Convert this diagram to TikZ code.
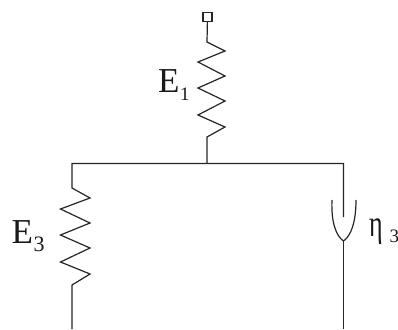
\documentclass[tikz,border=0pt]{standalone}
\usepackage{fontspec}
\setmainfont{Liberation Serif}
\tikzset{
  wire/.style={draw=black!85,line width=1.2pt,line join=miter},
  lab/.style={inner sep=0pt,text=black!90,font=\fontsize{35}{35}\selectfont,anchor=base west},
  sub/.style={inner sep=0pt,text=black!90,font=\fontsize{19}{19}\selectfont,anchor=base west},
  bigsub/.style={sub,font=\fontsize{22}{22}\selectfont},
  terminal/.style={draw=black!85,line width=1.1pt,minimum size=9pt,inner sep=0pt,rectangle}
}
\begin{document}
\begin{tikzpicture}[x=1pt,y=-1pt]
\useasboundingbox[fill=white] (0,0) rectangle (398,329);
\node[terminal] (term) at (207.5,17) {};
\coordinate (top1) at (207,42);
\coordinate (bot1) at (207,137);
\coordinate (j1) at (207,163.5);
\coordinate (lc) at (72,163.5);
\coordinate (rc) at (343.5,163.5);
\coordinate (top3) at (72,188);
\coordinate (bot3) at (72,285);
\coordinate (end3) at (72,329);
\coordinate (dashin) at (343.5,217);
\coordinate (ubot) at (343.5,241);
\coordinate (end4) at (343.5,329);
\draw[wire] (term) -- (top1) -- (225,51) -- (198,62) -- (225,76) -- (198,88) -- (225,101) -- (198,115) -- (225,127) -- (bot1) -- (j1);
\draw[wire] (end3) -- (bot3) -- (90,274) -- (60.5,262) -- (90,248) -- (60.5,235) -- (90,223) -- (60.5,209) -- (90,198) -- (top3) -- (lc) -- (rc) -- (dashin);
\draw[wire] (332,200) .. controls (331,222) and (336,236) .. (ubot) .. controls (351,236) and (356,222) .. (356,200);
\draw[wire] (ubot) -- (end4);
\node[lab] (e1) at (158,92) {E};
\node[sub] (s1) at (180,100) {1};
\node[lab] (e3) at (11.5,243) {E};
\node[bigsub] (s3) at (33.5,251) {3};
\node[inner sep=0pt,text=black!90,font=\fontsize{26}{26}\selectfont,anchor=base west] (eta) at (369.5,236) {\scalebox{1}[1.45]{η}};
\node[sub] (s4) at (389.5,242) {3};
\end{tikzpicture}
\end{document}
